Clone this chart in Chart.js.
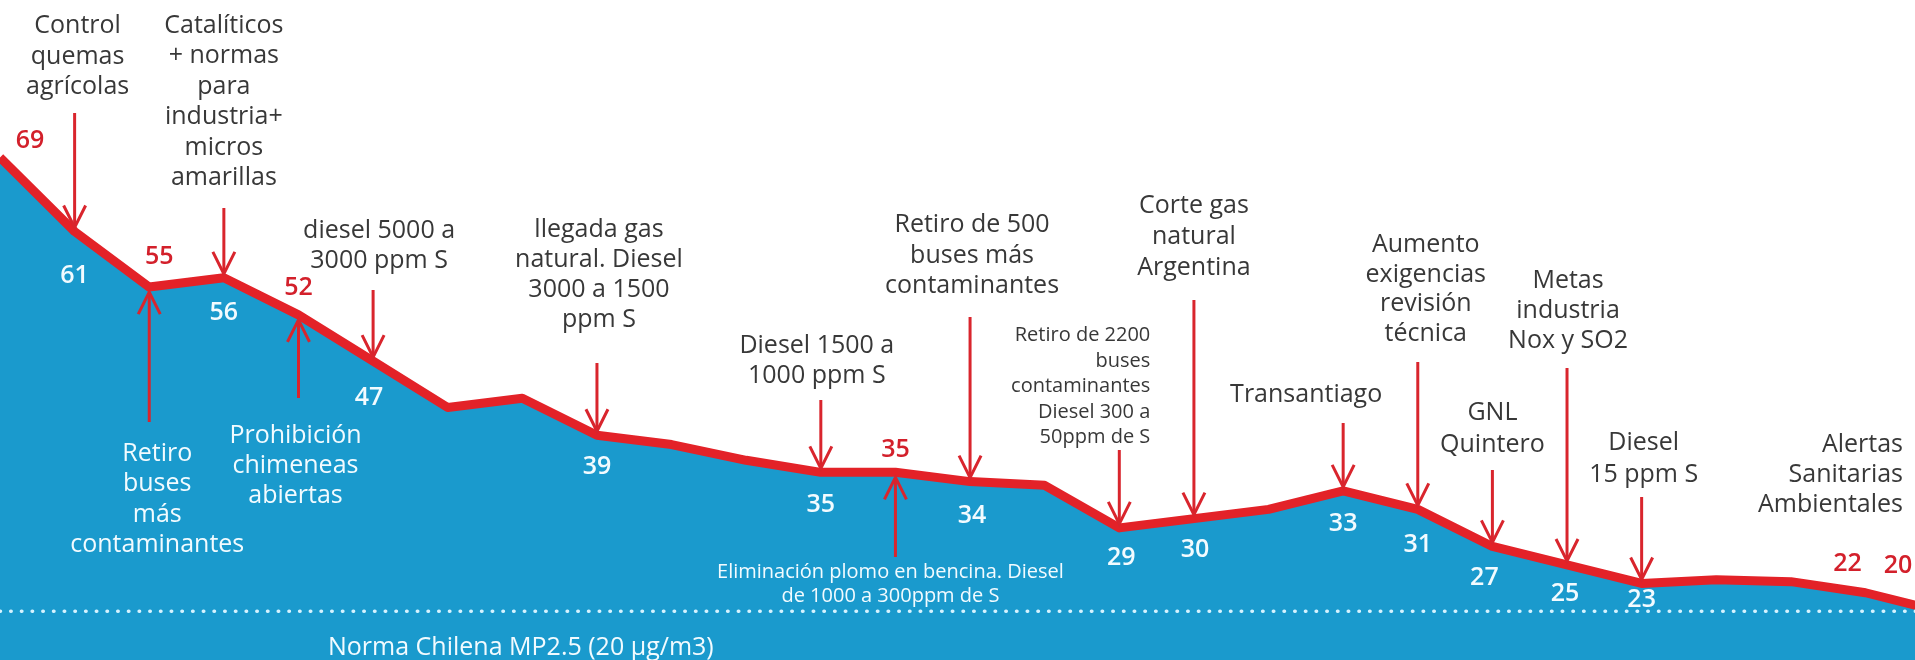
<!DOCTYPE html>
<html>
<head>
<meta charset="utf-8">
<script src="https://cdn.jsdelivr.net/npm/chart.js@4.4.1/dist/chart.umd.min.js"></script>
<style>
  html, body { margin: 0; padding: 0; background: #ffffff; overflow: hidden; }
  #wrap { position: relative; width: 1915px; height: 660px; }
  canvas { display: block; }
</style>
</head>
<body>
<div id="wrap"><canvas id="c" width="1915" height="660"></canvas></div>
<script>
// ---------------- DATA ----------------
// position of each yearly point along the timeline (0 = first point)
const pointIndex = [0,1,2,3,4,5,6,7,8,9,10,11,12,13,14,15,16,17,18,19,20,21,22,23,24,25,26];
// MP2.5 annual concentration (µg/m3)
const pm25 = [69,61,55,56,52,47,42,43,39,38,36.3,35,35,34,33.6,29,30,31,33,31,27,25,23,23.4,23.2,22,20];
// printed value labels ('' = not labelled in the original)
const valueText = ['69','61','55','56','52','47','','','39','','','35','35','34','','29','30','','33','31','27','25','23','','','22','20'];
// Chilean standard
const normValue = 20;
const normText = 'Norma Chilena MP2.5 (20 µg/m3)';

// events with an arrow pointing down onto the line (text above)
const downEventPoint = [1, 3, 5, 8, 11, 13, 15, 16, 18, 19, 20, 21, 22];
const downEventText = [
  ['Control', 'quemas', 'agrícolas'],
  ['Catalíticos', '+ normas', 'para', 'industria+', 'micros', 'amarillas'],
  ['diesel 5000 a', '3000 ppm S'],
  ['llegada gas', 'natural. Diesel', '3000 a 1500', 'ppm S'],
  ['Diesel 1500 a', '1000 ppm S'],
  ['Retiro de 500', 'buses más', 'contaminantes'],
  ['Retiro de 2200', 'buses', 'contaminantes', 'Diesel 300 a', '50ppm de S'],
  ['Corte gas', 'natural', 'Argentina'],
  ['Transantiago'],
  ['Aumento', 'exigencias', 'revisión', 'técnica'],
  ['GNL', 'Quintero'],
  ['Metas', 'industria', 'Nox y SO2'],
  ['Diesel', '15 ppm S']
];
// events with an arrow pointing up onto the line (text below, inside the area)
const upEventPoint = [2, 4, 12];
const upEventText = [
  ['Retiro', 'buses', 'más', 'contaminantes'],
  ['Prohibición', 'chimeneas', 'abiertas'],
  ['Eliminación plomo en bencina. Diesel', 'de 1000 a 300ppm de S']
];
// note without arrow
const noteText = ['Alertas', 'Sanitarias', 'Ambientales'];

// ---------------- LAYOUT / STYLE ----------------
const FONT = '"Open Sans", "Noto Sans", sans-serif';
const C_FILL = '#1a9acd';
const C_LINE = '#e32228';
const C_ARROW = '#d9252d';
const C_REDTXT = '#d3202b';
const C_TEXT = '#383838';
const C_WHITE = '#f2fbff';
const X_STEP = 74.62;          // pixels between two consecutive points
const Y_MIN = 14.74, Y_MAX = 85.99;

const downLayout = [
  { dx: 3,   y0: 33,  lh: 30.5, tail: 113 },
  { dx: 0,   y0: 33,  lh: 30.4, tail: 208 },
  { dx: 6,   y0: 238, lh: 30,   tail: 290 },
  { dx: 2,   y0: 237, lh: 30,   tail: 363 },
  { dx: -4,  y0: 353, lh: 30,   tail: 400 },
  { dx: 2,   y0: 232, lh: 30.5, tail: 317 },
  { dx: 31,  y0: 341, lh: 25.5, tail: 450, size: 20, align: 'right' },
  { dx: 0,   y0: 213, lh: 31,   tail: 300 },
  { dx: -37, y0: 402, lh: 30,   tail: 423 },
  { dx: 8,   y0: 252, lh: 29.5, tail: 362 },
  { dx: 0,   y0: 420, lh: 32,   tail: 470 },
  { dx: 1,   y0: 288, lh: 30,   tail: 368 },
  { dx: 2,   y0: 450, lh: 32,   tail: 497 }
];
const upLayout = [
  { dx: 8,  y0: 461, lh: 30.3, tail: 422 },
  { dx: -3, y0: 443, lh: 30,   tail: 398 },
  { dx: -5, y0: 578, lh: 24,   tail: 557, size: 20 }
];
const noteLayout = { x: 1903, y0: 452, lh: 30 };
const normLayout = { x: 328, y: 655 };
// value-label offsets from their point, and tone (r = red above, w = white below)
const valueLayout = {
  0: [30, -17, 'r'], 1: [0, 44, 'w'], 2: [10, -30, 'r'], 3: [0, 35, 'w'], 4: [0, -27, 'r'],
  5: [-4, 37, 'w'], 8: [0, 32, 'w'], 11: [0, 33, 'w'], 12: [0, -22, 'r'], 13: [2, 34, 'w'],
  15: [2, 30, 'w'], 16: [1, 31, 'w'], 18: [0, 33, 'w'], 19: [0, 35, 'w'], 20: [-8, 31, 'w'],
  21: [-2, 29, 'w'], 22: [0, 16, 'w'], 25: [-18, -29, 'r'], 26: [-42, -45, 'r']
};

// ---------------- PLUGIN ----------------
const annotations = {
  id: 'annotations',
  afterDatasetsDraw(chart) {
    const ctx = chart.ctx;
    const xs = chart.scales.x, ys = chart.scales.y;
    const px = i => xs.getPixelForValue(pointIndex[i]);
    const py = i => ys.getPixelForValue(pm25[i]);
    ctx.save();

    function arrow(x, yTail, yTip) {
      const dir = Math.sign(yTip - yTail);
      ctx.strokeStyle = C_ARROW;
      ctx.lineWidth = 3;
      ctx.lineCap = 'butt';
      ctx.lineJoin = 'miter';
      ctx.beginPath();
      ctx.moveTo(x, yTail);
      ctx.lineTo(x, yTip - dir * 1);
      ctx.stroke();
      ctx.beginPath();
      ctx.moveTo(x - 11, yTip - dir * 22);
      ctx.lineTo(x, yTip);
      ctx.lineTo(x + 11, yTip - dir * 22);
      ctx.stroke();
    }
    function lines(arr, x, y0, lh, size, color, align) {
      ctx.font = size + 'px ' + FONT;
      ctx.fillStyle = color;
      ctx.textAlign = align || 'center';
      ctx.textBaseline = 'alphabetic';
      arr.forEach((t, k) => ctx.fillText(t, x, y0 + k * lh));
    }

    // down events
    downEventPoint.forEach((p, k) => {
      const L = downLayout[k];
      const x = px(p);
      arrow(x, L.tail, py(p) - 4);
      lines(downEventText[k], x + L.dx, L.y0, L.lh, L.size || 25, C_TEXT, L.align);
    });
    // up events
    upEventPoint.forEach((p, k) => {
      const L = upLayout[k];
      const x = px(p);
      arrow(x, L.tail, py(p) + 5);
      lines(upEventText[k], x + L.dx, L.y0, L.lh, L.size || 25, C_WHITE, L.align);
    });
    // note
    lines(noteText, noteLayout.x, noteLayout.y0, noteLayout.lh, 25, C_TEXT, 'right');
    // norm label
    lines([normText], normLayout.x, normLayout.y, 0, 25, C_WHITE, 'left');

    // value labels
    ctx.font = '600 25px ' + FONT;
    ctx.textAlign = 'center';
    ctx.textBaseline = 'middle';
    valueText.forEach((t, i) => {
      if (!t) return;
      const o = valueLayout[i];
      ctx.fillStyle = o[2] === 'r' ? C_REDTXT : C_WHITE;
      ctx.fillText(t, px(i) + o[0], py(i) + o[1]);
    });
    ctx.restore();
  }
};

// ---------------- CHART ----------------
new Chart(document.getElementById('c'), {
  type: 'line',
  data: {
    datasets: [
      {
        label: 'Norma',
        data: pointIndex.map(i => ({ x: i, y: normValue })),
        borderColor: '#d6f3ff',
        borderWidth: 3.5,
        borderDash: [0.5, 10.2],
        borderCapStyle: 'round',
        pointRadius: 0,
        fill: false,
        tension: 0
      },
      {
        label: 'MP2.5',
        data: pointIndex.map((i, k) => ({ x: i, y: pm25[k] })),
        borderColor: C_LINE,
        borderWidth: 9,
        borderJoinStyle: 'round',
        backgroundColor: C_FILL,
        pointRadius: 0,
        fill: 'start',
        tension: 0
      }
    ]
  },
  options: {
    responsive: false,
    animation: false,
    events: [],
    layout: { padding: 0 },
    plugins: { legend: { display: false }, tooltip: { enabled: false }, title: { display: false } },
    scales: {
      x: { type: 'linear', display: false, min: 0, max: 1915 / X_STEP },
      y: { type: 'linear', display: false, min: Y_MIN, max: Y_MAX }
    }
  },
  plugins: [annotations]
});
</script>
</body>
</html>
